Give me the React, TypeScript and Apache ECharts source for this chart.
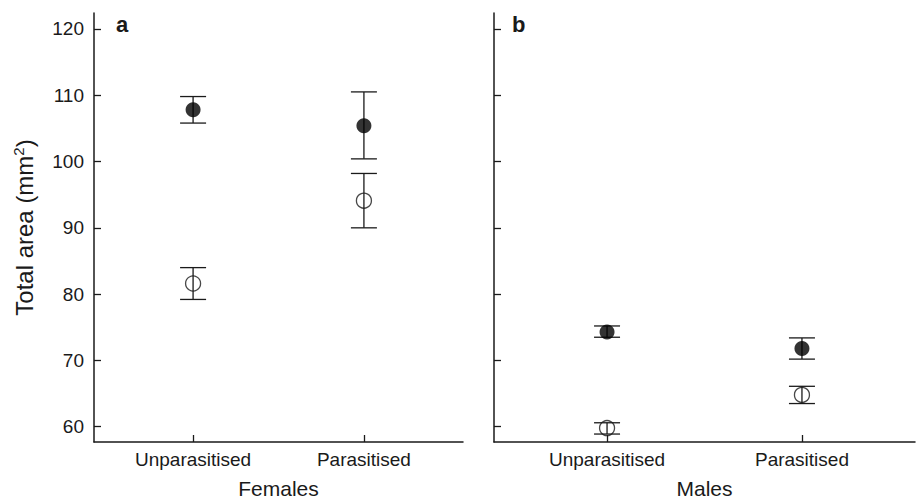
import React, { useEffect, useRef } from "react";
import * as echarts from "echarts";

const categories = ["Unparasitised", "Parasitised"];
const panelNames = ["Females", "Males"];
const panelLetters = ["a", "b"];
const yTicks = [60, 70, 80, 90, 100, 110, 120];
const xPositions = [1, 2];

// Filled circles
const femaleFilledMean = [107.8, 105.4];
const femaleFilledLow = [105.8, 100.4];
const femaleFilledHigh = [109.8, 110.5];
const maleFilledMean = [74.3, 71.8];
const maleFilledLow = [73.5, 70.2];
const maleFilledHigh = [75.2, 73.4];

// Open circles
const femaleOpenMean = [81.6, 94.1];
const femaleOpenLow = [79.2, 90.0];
const femaleOpenHigh = [84.0, 98.2];
const maleOpenMean = [59.8, 64.8];
const maleOpenLow = [58.9, 63.5];
const maleOpenHigh = [60.6, 66.1];

const INK = "#1a1a1a";
const FONT = "Liberation Sans, Arial, sans-serif";

function errData(low: number[], high: number[]) {
  return xPositions.map((x, i) => [x, low[i], high[i]]);
}
function ptData(mean: number[]) {
  return xPositions.map((x, i) => [x, mean[i]]);
}

const renderErr = (params: any, api: any) => {
  const x = api.value(0);
  const lo = api.coord([x, api.value(1)]);
  const hi = api.coord([x, api.value(2)]);
  const hw = 13;
  const style = { stroke: INK, lineWidth: 1.3 };
  return {
    type: "group",
    children: [
      { type: "line", shape: { x1: lo[0], y1: lo[1], x2: hi[0], y2: hi[1] }, style },
      { type: "line", shape: { x1: lo[0] - hw, y1: lo[1], x2: lo[0] + hw, y2: lo[1] }, style },
      { type: "line", shape: { x1: hi[0] - hw, y1: hi[1], x2: hi[0] + hw, y2: hi[1] }, style },
    ],
  };
};

export default function App() {
  const ref = useRef<HTMLDivElement>(null);
  useEffect(() => {
    const chart = echarts.init(ref.current!, null, { renderer: "svg" });
    const axisLine = { show: true, lineStyle: { color: INK, width: 1.5 } };
    const yMin = 57.7;
    const yMax = 122.4;
    const mkX = (idx: number) => ({
      type: "value",
      gridIndex: idx,
      min: 0.42,
      max: 2.58,
      name: panelNames[idx],
      nameLocation: "middle",
      nameGap: 36,
      nameTextStyle: { fontSize: 21, color: INK, fontFamily: FONT },
      axisLine,
      axisTick: { show: true, inside: true, length: 7, customValues: xPositions, lineStyle: { color: INK, width: 1.3 } },
      axisLabel: {
        customValues: xPositions,
        formatter: (v: number) => categories[Math.round(v) - 1] || "",
        fontSize: 19,
        color: INK,
        fontFamily: FONT,
        margin: 8,
      },
      splitLine: { show: false },
    });
    const mkY = (idx: number) => ({
      type: "value",
      gridIndex: idx,
      min: yMin,
      max: yMax,
      name: idx === 0 ? "Total area (mm{sup|2})" : "",
      nameLocation: "middle",
      nameRotate: 90,
      nameGap: 56,
      nameTextStyle: {
        fontSize: 24,
        color: INK,
        fontFamily: FONT,
        rich: { sup: { fontSize: 15, verticalAlign: "bottom", padding: [0, 0, 12, 0], color: INK, fontFamily: FONT } },
      },
      axisLine,
      axisTick: { show: true, inside: true, length: 7, customValues: yTicks, lineStyle: { color: INK, width: 1.3 } },
      axisLabel: {
        show: idx === 0,
        customValues: yTicks,
        fontSize: 19,
        color: INK,
        fontFamily: FONT,
        margin: 10,
      },
      splitLine: { show: false },
    });
    const errSeries = (gi: number, low: number[], high: number[]) => ({
      type: "custom",
      xAxisIndex: gi,
      yAxisIndex: gi,
      renderItem: renderErr,
      data: errData(low, high),
      z: 2,
      clip: false,
    });
    const ptSeries = (gi: number, mean: number[], filled: boolean) => ({
      type: "scatter",
      xAxisIndex: gi,
      yAxisIndex: gi,
      data: ptData(mean),
      symbol: "circle",
      symbolSize: 15,
      itemStyle: filled
        ? { color: "#000", borderColor: "#000", borderWidth: 0 }
        : { color: "rgba(255,255,255,0)", borderColor: INK, borderWidth: 1.3 },
      z: 3,
      clip: false,
    });
    chart.setOption({
      animation: false,
      backgroundColor: "#ffffff",
      grid: [
        { left: 94, top: 13, width: 369, bottom: 61, outerBoundsMode: "none", containLabel: false },
        { left: 494, top: 13, right: 2, bottom: 61, outerBoundsMode: "none", containLabel: false },
      ],
      xAxis: [mkX(0), mkX(1)],
      yAxis: [mkY(0), mkY(1)],
      graphic: [
        { type: "text", left: 116, top: 13, style: { text: panelLetters[0], fontSize: 22, fontWeight: "bold", fill: INK, fontFamily: FONT } },
        { type: "text", left: 512, top: 13, style: { text: panelLetters[1], fontSize: 22, fontWeight: "bold", fill: INK, fontFamily: FONT } },
      ],
      series: [
        errSeries(0, femaleFilledLow, femaleFilledHigh),
        errSeries(0, femaleOpenLow, femaleOpenHigh),
        errSeries(1, maleFilledLow, maleFilledHigh),
        errSeries(1, maleOpenLow, maleOpenHigh),
        ptSeries(0, femaleFilledMean, true),
        ptSeries(0, femaleOpenMean, false),
        ptSeries(1, maleFilledMean, true),
        ptSeries(1, maleOpenMean, false),
      ],
    });
    return () => chart.dispose();
  }, []);
  return <div ref={ref} style={{ position: "absolute", left: 0, top: 0, width: 917, height: 503 }} />;
}
